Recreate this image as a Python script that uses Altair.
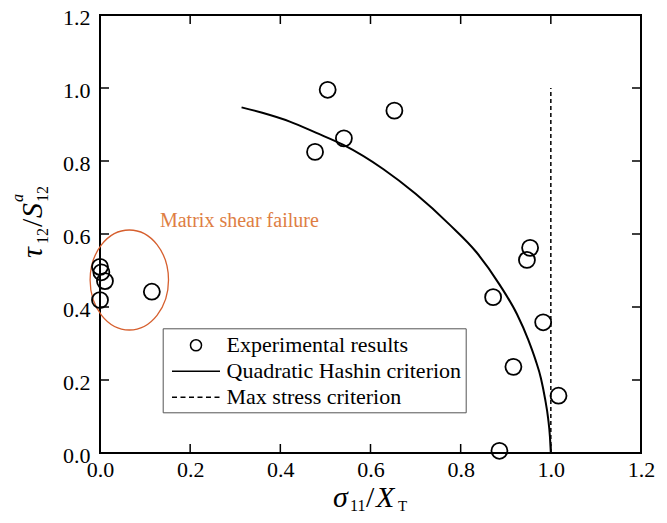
import altair as alt
import pandas as pd

# ---------------- data ----------------
exp_x = [0.000, 0.003, 0.011, 0.000, 0.115, 0.477, 0.505, 0.541, 0.653,
         0.872, 0.947, 0.954, 0.983, 0.917, 1.017, 0.886]
exp_y = [0.510, 0.495, 0.471, 0.419, 0.442, 0.825, 0.995, 0.862, 0.938,
         0.427, 0.529, 0.562, 0.358, 0.236, 0.157, 0.006]

hashin_x = [0.314, 0.360, 0.421, 0.480, 0.540, 0.628, 0.700, 0.776, 0.835,
            0.887, 0.925, 0.950, 0.966, 0.978, 0.987, 0.994, 0.998, 1.000]
hashin_y = [0.947, 0.932, 0.908, 0.877, 0.844, 0.778, 0.710, 0.625, 0.550,
            0.460, 0.380, 0.310, 0.255, 0.205, 0.150, 0.095, 0.045, 0.000]

max_stress_x = [1.0]
max_stress_y0 = [0.0]
max_stress_y1 = [1.0]

series = ["Experimental results", "Quadratic Hashin criterion", "Max stress criterion"]
tick_values = [0.0, 0.2, 0.4, 0.6, 0.8, 1.0, 1.2]
inner_ticks = [0.2, 0.4, 0.6, 0.8, 1.0]

annot_text = ["Matrix shear failure"]
annot_x = [0.133]
annot_y = [0.62]
ellipse_cx = [0.065]
ellipse_cy = [0.474]

# ---------------- styling ----------------
FONT = "Liberation Serif"
ORANGE_TXT = "#DE7E43"
ORANGE_ELL = "#D65F2E"

circle_path = "M-0.46,0A0.46,0.46,0,1,0,0.46,0A0.46,0.46,0,1,0,-0.46,0Z"
solid_path = "M-2,0L2,0"
dashed_path = ("M-2,0L-1.583,0M-1.292,0L-0.875,0M-0.583,0L-0.167,0"
               "M0.125,0L0.542,0M0.833,0L1.25,0M1.542,0L1.958,0")
ellipse_path = "M-0.784,0A0.784,1,0,1,0,0.784,0A0.784,1,0,1,0,-0.784,0Z"

W, H = 541, 438

xs = alt.Scale(domain=[0, 1.2], nice=False, zero=False)
ys = alt.Scale(domain=[0, 1.2], nice=False, zero=False)

x_axis = alt.Axis(values=tick_values, format=".1f", title=None, domain=False,
                  ticks=False, grid=False, labelFont=FONT, labelFontSize=22,
                  labelColor="black", labelPadding=6, labelFlush=False)
y_axis = alt.Axis(values=tick_values, format=".1f", title=None, domain=False,
                  ticks=False, grid=False, labelFont=FONT, labelFontSize=22,
                  labelColor="black", labelPadding=10, labelFlush=False,
                  labelOffset=2)


def X():
    return alt.X("x:Q", scale=xs, axis=x_axis)


def Y():
    return alt.Y("y:Q", scale=ys, axis=y_axis)


exp_df = pd.DataFrame({"x": exp_x, "y": exp_y, "series": series[0]})
hashin_df = pd.DataFrame({"x": hashin_x, "y": hashin_y})
max_df = pd.DataFrame({"x": max_stress_x, "y": max_stress_y0, "y2": max_stress_y1})
ell_df = pd.DataFrame({"x": ellipse_cx, "y": ellipse_cy})
ann_df = pd.DataFrame({"x": annot_x, "y": annot_y, "t": annot_text})

points = alt.Chart(exp_df).mark_point(
    filled=False, stroke="black", strokeWidth=1.8, opacity=1, size=1210
).encode(
    x=X(),
    y=Y(),
    shape=alt.Shape("series:N",
                    scale=alt.Scale(domain=series,
                                    range=[circle_path, solid_path, dashed_path]),
                    legend=alt.Legend(
                        title=None, orient="none", legendX=62.7, legendY=313.3,
                        symbolSize=576, symbolStrokeWidth=1.5,
                        symbolStrokeColor="black", symbolFillColor="transparent",
                        symbolOffset=16.3, labelOffset=17.5,
                        labelFont=FONT, labelFontSize=22, labelColor="black",
                        labelLimit=400, padding=4, rowPadding=2,
                        strokeColor="#555555", fillColor="white")),
)

hashin = alt.Chart(hashin_df).mark_line(
    color="black", strokeWidth=2, interpolate="monotone"
).encode(x=X(), y=Y(), order="x:Q")

max_rule = alt.Chart(max_df).mark_rule(
    color="black", strokeWidth=1.5, strokeDash=[4, 3]
).encode(x=X(), y=Y(), y2="y2:Q")

ellipse = alt.Chart(ell_df).mark_point(
    shape=ellipse_path, size=10000, filled=False, stroke=ORANGE_ELL,
    strokeWidth=1.3, opacity=1
).encode(x=X(), y=Y())

annot = alt.Chart(ann_df).mark_text(
    font=FONT, fontSize=20, color=ORANGE_TXT, align="left", baseline="alphabetic"
).encode(x=X(), y=Y(), text="t:N")


# inward ticks on all four sides (clipped to the frame)
def tick_layer(df, orient):
    return alt.Chart(df).mark_tick(
        orient=orient, size=18, thickness=1.5, color="black", opacity=1, clip=True
    ).encode(x=X(), y=Y())


xt_df = pd.DataFrame({"x": inner_ticks * 2,
                      "y": [0.0] * len(inner_ticks) + [1.2] * len(inner_ticks)})
yt_df = pd.DataFrame({"y": inner_ticks * 2,
                      "x": [0.0] * len(inner_ticks) + [1.2] * len(inner_ticks)})
xticks = tick_layer(xt_df, "vertical")
yticks = tick_layer(yt_df, "horizontal")


# axis titles composed of pieces (for sub/superscripts)
def piece(s, x, y, size, style="normal", angle=0):
    return alt.Chart(pd.DataFrame({"t": [s]})).mark_text(
        font=FONT, fontSize=size, fontStyle=style, align="left",
        baseline="alphabetic", angle=angle, color="black"
    ).encode(x=alt.value(x), y=alt.value(y), text="t:N")


xtitle = [
    piece("σ", 233, 492, 30, "italic"),
    piece("11", 250, 496, 16),
    piece("/", 266, 492, 30),
    piece("X", 276, 492, 30, "italic"),
    piece("T", 298, 496, 15),
]
ytitle = [
    piece("τ", -58, 243, 30, "italic", 270),
    piece("12", -52, 229, 16, "normal", 270),
    piece("/", -58, 212, 30, "normal", 270),
    piece("S", -58, 203, 30, "italic", 270),
    piece("a", -77, 187, 16, "italic", 270),
    piece("12", -52, 187, 16, "normal", 270),
]

chart = alt.layer(
    ellipse, hashin, max_rule, points, annot, xticks, yticks, *xtitle, *ytitle
).properties(
    width=W, height=H,
    autosize=alt.AutoSizeParams(type="none"),
    padding={"left": 92, "top": 7, "right": 18, "bottom": 62},
).configure_view(
    stroke="black", strokeWidth=2
)

chart.save("out.html", embed_options={"renderer": "svg", "actions": False})
